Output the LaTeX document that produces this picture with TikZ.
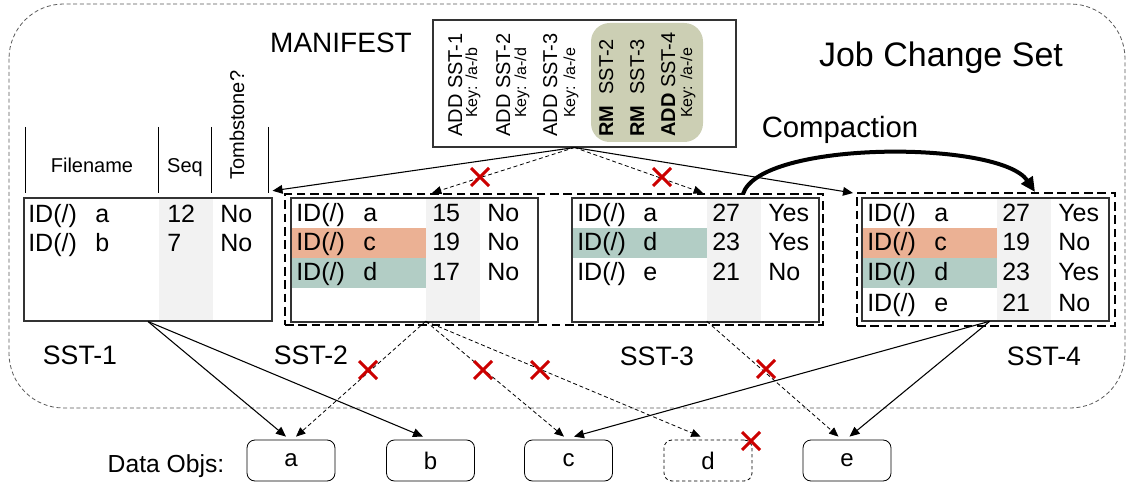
\documentclass[tikz,border=0pt]{standalone}
\usepackage{fontspec}
\setmainfont{Liberation Sans}
\usetikzlibrary{arrows.meta,fit}
\definecolor{rowc}{HTML}{EBB194}
\definecolor{rowd}{HTML}{B2CDC5}
\definecolor{seqgray}{HTML}{F2F2F2}
\definecolor{mfgreen}{HTML}{CCCFB4}
\definecolor{xred}{HTML}{CC0000}
\begin{document}
\begin{tikzpicture}[x=0.75pt,y=-0.75pt,
  cell/.style={anchor=base west,inner sep=0pt,font=\fontsize{18.75}{20}\selectfont},
  hdr/.style={inner sep=0pt,font=\fontsize{15}{16}\selectfont},
  mfbig/.style={rotate=90,anchor=base west,inner sep=0pt,font=\fontsize{15}{16}\selectfont},
  mfkey/.style={rotate=90,anchor=base west,inner sep=0pt,font=\fontsize{12}{13}\selectfont},
  label/.style={anchor=base,inner sep=0pt,font=\fontsize{20}{22}\selectfont},
  tablebox/.style={draw=black!80,line width=0.8pt,inner sep=0pt},
  seqcol/.style={fill=seqgray,inner sep=0pt},
  group/.style={draw,line width=2.2pt,dash pattern=on 6.5pt off 3.5pt,inner sep=0pt},
  outerset/.style={draw=black!65,line width=0.6pt,dash pattern=on 3pt off 2pt,rounded corners=41pt},
  link/.style={-{Triangle[length=7.5pt,width=6.5pt]},line width=0.8pt},
  dlink/.style={-{Triangle[length=7pt,width=6pt]},line width=0.6pt,dash pattern=on 3pt off 2pt},
  compact/.style={-{Triangle[length=11pt,width=10pt]},line width=3pt},
  obj/.style={draw,line width=0.6pt,rounded corners=6pt,minimum width=66pt,minimum height=30.75pt,
    inner sep=0pt,font=\fontsize{18}{20}\selectfont},
  redx/.pic={\draw[xred,line width=2.25pt] (-9,-9) -- (9,9) (-9,9) -- (9,-9);}
]
\useasboundingbox (0,0) rectangle (1127,484);

% job change set outline
\draw[outerset] (9,4) rectangle (1125,408);
\node[anchor=base,inner sep=0pt,font=\fontsize{25.5}{28}\selectfont] (jcs) at (941,67) {Job Change Set};

% manifest
\node[anchor=base,inner sep=0pt,font=\fontsize{21}{24}\selectfont] (mftitle) at (341,53) {MANIFEST};
\node[fit={(433,20) (736,147)},draw=black!80,line width=0.8pt,inner sep=0pt] (mf) {};
\fill[mfgreen,rounded corners=14pt] (591,23) rectangle (703,142);
\node[mfbig] (m1) at (462,137) {ADD SST-1};
\node[mfkey] (k1) at (477,118) {Key: /a-/b};
\node[mfbig] (m2) at (510,137) {ADD SST-2};
\node[mfkey] (k2) at (526,118) {Key: /a-/d};
\node[mfbig] (m3) at (557,137) {ADD SST-3};
\node[mfkey] (k3) at (575,118) {Key: /a-/e};
\node[mfbig] (m4) at (613,137) {\textbf{RM}~~SST-2};
\node[mfbig] (m5) at (644,137) {\textbf{RM}~~SST-3};
\node[mfbig] (m6) at (675,137) {\textbf{ADD} SST-4};
\node[mfkey] (k6) at (692,118) {Key: /a-/e};

% compaction
\node[anchor=base,inner sep=0pt,font=\fontsize{22}{24}\selectfont] (comp) at (840,138) {Compaction};

% SST-1 header
\draw[line width=0.6pt] (25,127) -- (25,193) (158,127) -- (158,193) (211,127) -- (211,193) (268,127) -- (268,193);
\node[hdr,anchor=base] (h1) at (92,173) {Filename};
\node[hdr,anchor=base] (h2) at (185,173) {Seq};
\node[hdr,rotate=90,anchor=base west] (h3) at (244,180) {Tombstone?};

% column shading and coloured rows
\node[seqcol,fit={(159,198) (213,321)}] (seq1) {};
\node[seqcol,fit={(426,198) (480,321)}] (seq2) {};
\node[seqcol,fit={(707,198) (761,321)}] (seq3) {};
\node[seqcol,fit={(997,198) (1051,321)}] (seq4) {};
\fill[rowc] (291,228) rectangle (426,258);
\fill[rowd] (291,258) rectangle (426,288);
\fill[rowd] (572,228) rectangle (707,258);
\fill[rowc] (862,228) rectangle (997,258);
\fill[rowd] (862,258) rectangle (997,288);

% tables
\node[tablebox,fit={(24,198) (272,321)}] (sst1) {};
\node[tablebox,fit={(291,198) (538,322)}] (sst2) {};
\node[tablebox,fit={(572,198) (819,322)}] (sst3) {};
\node[tablebox,fit={(862,198) (1109,321)}] (sst4) {};
\node[group,fit={(285,194) (823,325)}] (g23) {};
\node[group,fit={(857,193) (1115,326)}] (g4) {};

\foreach \y/\f/\n/\t [count=\i] in {223/a/12/No,252/b/7/No}{
  \node[cell] (s1id\i) at (28,\y) {ID(/)};
  \node[cell] (s1f\i) at (95,\y) {\f};
  \node[cell] (s1n\i) at (167,\y) {\n};
  \node[cell] (s1t\i) at (220,\y) {\t};
}
\foreach \y/\f/\n/\t [count=\i] in {222/a/15/No,251/c/19/No,281/d/17/No}{
  \node[cell] (s2id\i) at (296,\y) {ID(/)};
  \node[cell] (s2f\i) at (363,\y) {\f};
  \node[cell] (s2n\i) at (432,\y) {\n};
  \node[cell] (s2t\i) at (487,\y) {\t};
}
\foreach \y/\f/\n/\t [count=\i] in {222/a/27/Yes,251/d/23/Yes,281/e/21/No}{
  \node[cell] (s3id\i) at (577,\y) {ID(/)};
  \node[cell] (s3f\i) at (643,\y) {\f};
  \node[cell] (s3n\i) at (712,\y) {\n};
  \node[cell] (s3t\i) at (768,\y) {\t};
}
\foreach \y/\f/\n/\t [count=\i] in {222/a/27/Yes,251/c/19/No,281/d/23/Yes,311/e/21/No}{
  \node[cell] (s4id\i) at (867,\y) {ID(/)};
  \node[cell] (s4f\i) at (934,\y) {\f};
  \node[cell] (s4n\i) at (1002,\y) {\n};
  \node[cell] (s4t\i) at (1058,\y) {\t};
}

\node[label] (l1) at (80,364) {SST-1};
\node[label] (l2) at (311,364) {SST-2};
\node[label] (l3) at (657,365) {SST-3};
\node[label] (l4) at (1044,365) {SST-4};

% data objects
\node[anchor=base,inner sep=0pt,font=\fontsize{18.5}{20}\selectfont] (dobj) at (166,472) {Data Objs:};
\node[obj] (a) at (291,460.5) {a};
\node[obj] (b) at (430.5,460.5) {b};
\node[obj] (c) at (568.5,460.5) {c};
\node[obj,dash pattern=on 2.5pt off 2pt] (d) at (708,460.5) {d};
\node[obj] (e) at (847,460.5) {e};

% manifest references
\coordinate (mfout) at ([xshift=-7.5pt]mf.south);
\coordinate (tip2) at (432,193);
\coordinate (tip3) at (703,193);
\coordinate (tip4) at (853,193);
\draw[link] (mfout) -- ([yshift=5pt]sst1.north east);
\draw[dlink] (mfout) -- (tip2);
\draw[dlink] (mfout) -- (tip3);
\draw[link] (mfout) -- (tip4);

% compaction arrow
\coordinate (cstart) at (743,194);
\coordinate (cend) at (1035,192);
\draw[compact] (cstart) .. controls (760,140) and (1000,140) .. (cend);

% references to data objects
\draw[link] (sst1.south) -- ([xshift=-3.75pt,yshift=2.25pt]a.north);
\draw[link] (sst1.south) -- ([xshift=-5.6pt,yshift=2.25pt]b.north);
\draw[dlink] (seq2.south west) -- ([xshift=3.75pt,yshift=2.25pt]a.north);
\draw[dlink] (seq2.south west) -- ([xshift=-3.4pt,yshift=2.25pt]c.north);
\draw[dlink] (seq2.south west) -- ([xshift=-5.6pt,yshift=2.25pt]d.north);
\draw[dlink] (seq3.south west) -- ([xshift=-6.4pt,yshift=2.25pt]e.north);
\draw[link] ([xshift=-5.25pt]seq4.south west) -- ([xshift=4.1pt,yshift=2.25pt]c.north);
\draw[link] ([xshift=-5.25pt]seq4.south west) -- ([xshift=1.9pt,yshift=2.25pt]e.north);

% removed references
\pic at (480,177) {redx};
\pic at (662,177) {redx};
\pic at (368,370) {redx};
\pic at (483,370) {redx};
\pic at (540,370) {redx};
\pic at (766,369) {redx};
\pic at (751,441) {redx};
\end{tikzpicture}
\end{document}
